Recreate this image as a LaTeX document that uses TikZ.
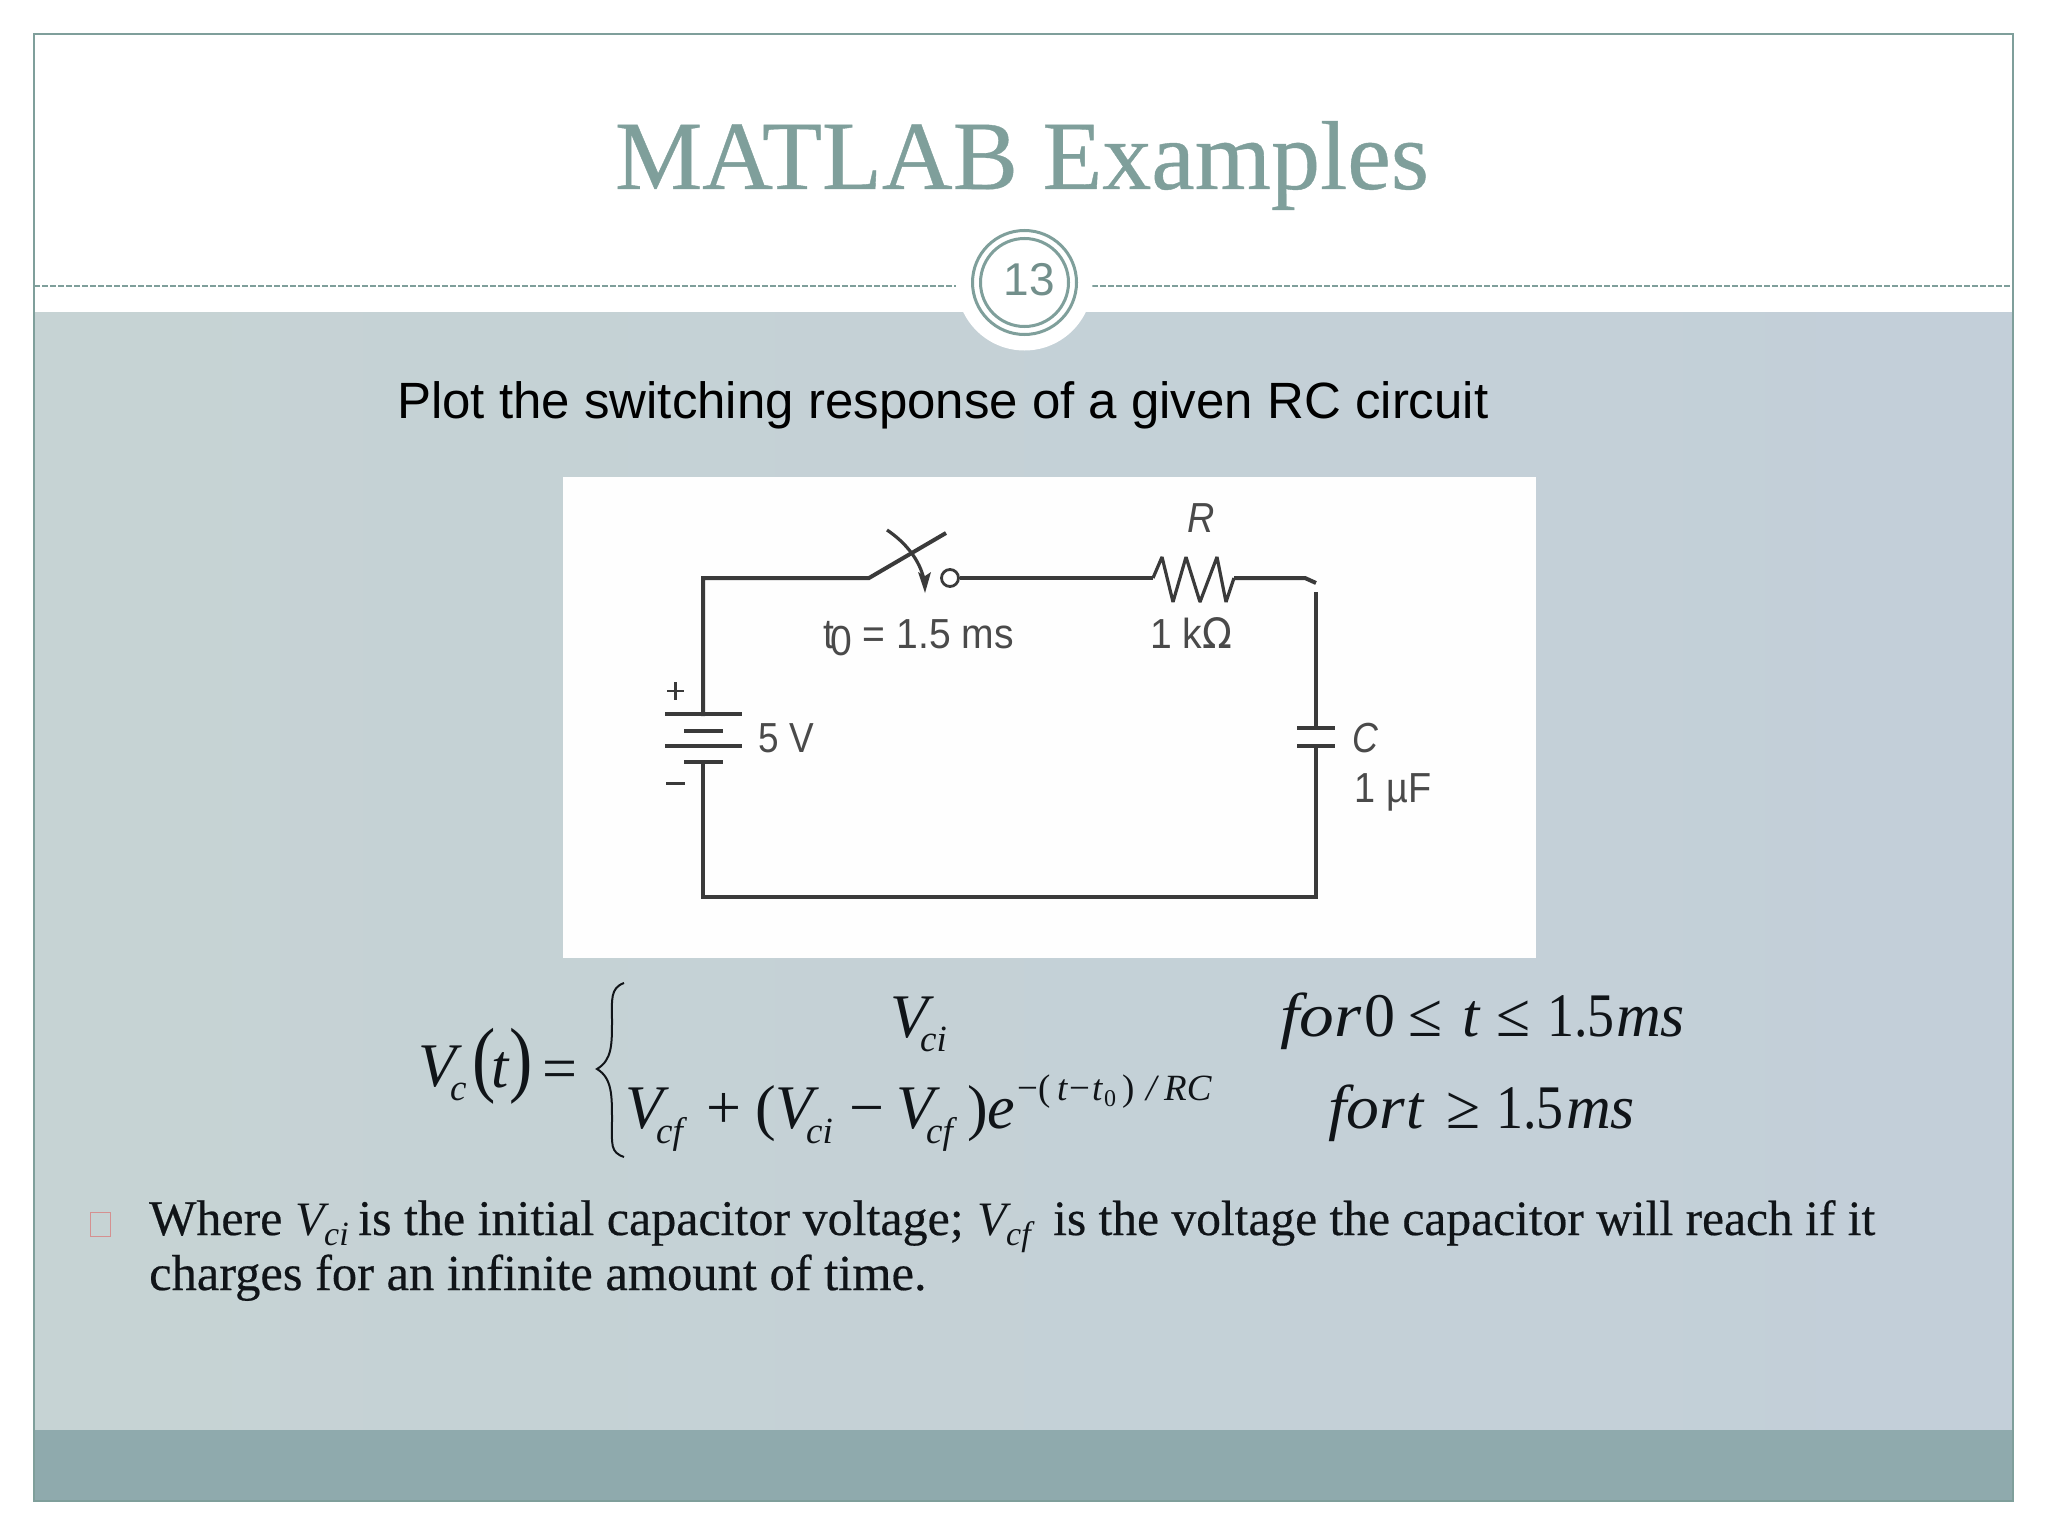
\documentclass[tikz,border=0pt]{standalone}
\usepackage{fontspec}
\setmainfont{Liberation Serif}
\setsansfont{Liberation Sans}
\newcommand{\eqit}{\rmfamily\itshape}
\newcommand{\fs}[1]{\fontsize{#1}{#1}\selectfont}
\newfontfamily\heavyserif[FakeBold=0.4]{Liberation Serif}
\definecolor{framec}{HTML}{7F9F9B}
\definecolor{bandl}{HTML}{C6D3D4}
\definecolor{bandr}{HTML}{C3CFD9}
\definecolor{footc}{HTML}{8FAAAD}
\definecolor{wirec}{HTML}{3A3A3A}
\definecolor{labc}{HTML}{4A4A4A}
\definecolor{inkc}{HTML}{101418}
\tikzset{
  tx/.style={inner sep=0pt,anchor=base west,text=inkc},
  eq/.style={tx,font=\eqit\fs{62}},
  eqr/.style={tx,font=\rmfamily\fs{62}},
  eqs/.style={tx,font=\eqit\fs{37}},
  eqrs/.style={tx,font=\rmfamily\fs{37}},
  body/.style={tx,font=\heavyserif\fs{50}},
  bodyi/.style={tx,font=\eqit\fs{48}},
  bodys/.style={tx,font=\eqit\fs{34}},
  lab/.style={inner sep=0pt,text=labc,font=\sffamily\fs{42}},
  wire/.style={draw=wirec,line width=3.2pt},
  thick wire/.style={draw=wirec,line width=4pt},
  plate/.style={draw=wirec,line width=4.4pt},
  ring/.style={draw=framec,line width=3pt},
  rule/.style={draw=framec,line width=2pt,dash pattern=on 6pt off 2pt},
}
\begin{document}
\begin{tikzpicture}[x=1pt,y=-1pt]
\useasboundingbox (0,0) rectangle (2048,1536);
\fill[white] (0,0) rectangle (2048,1536);
% band and footer
\shade[left color=bandl,right color=bandr] (34,312) rectangle (2013,1430);
\fill[footc] (34,1430) rectangle (2013,1501);
\draw[framec,line width=1.6pt] (34,34) rectangle (2013,1501);
% header rule
\draw[rule] (34,286) -- (956,286);
\draw[rule] (1092,286) -- (2013,286);
\fill[white] (1024.5,282.5) circle (68);
\node[ring,circle,minimum size=104pt,inner sep=0pt] (outerring) at (1024.5,282.5) {};
\node[ring,circle,minimum size=88pt,inner sep=0pt] (innerring) at (1024.5,282.5) {};
\node[inner sep=0pt,text=framec!90!black,font=\sffamily\fs{46}] (pagenum) at (1029,280) {13};
% title
\node[tx,text=framec,font=\heavyserif\fs{98},anchor=base] (title) at (1022,189) {MATLAB Examples};
\node[tx,text=black,font=\sffamily\fs{51},anchor=base west] (subtitle) at (397,418) {Plot the switching response of a given RC circuit};
% picture
\fill[white!99!gray] (563,477) rectangle (1536,958);
\coordinate (tl) at (703,578);
\coordinate (sw) at (869,578);
\coordinate (rs) at (1153,578);
\coordinate (re) at (1234,578);
\coordinate (cr) at (1305,578);
\coordinate (rt) at (1316,592);
\coordinate (rb) at (1316,897);
\coordinate (lb) at (703,897);
\node[draw=wirec,line width=2.8pt,circle,minimum size=17pt,inner sep=0pt,fill=white] (contact) at (950,578) {};
\draw[thick wire,line join=miter] (703,716) -- (tl) -- (sw) -- (946,533);
\draw[thick wire] (contact) -- (rs);
\draw[wire,line join=bevel] (rs) -- (1162,557) -- (1173,602) -- (1186,557) -- (1200,602) -- (1217,557) -- (1226,602) -- (re);
\draw[thick wire] (re) -- (cr) -- (1316,583);
\draw[wire] (rt) -- (1316,728);
\draw[plate] (1297,728) -- (1335,728);
\draw[plate] (1297,746) -- (1335,746);
\draw[wire] (1316,746) -- (rb) -- (lb) -- (703,762);
\draw[thick wire] (rb) -- (lb);
\draw[plate] (665,714) -- (742,714);
\draw[plate] (684,731) -- (723,731);
\draw[plate] (665,746) -- (742,746);
\draw[plate] (684,762) -- (723,762);
\draw[wire] (887,530) .. controls (905,542) and (920,560) .. (924,580);
\fill[wirec] (925,593) -- (918,572) -- (925,576) -- (931,572) -- cycle;
\draw[wirec,line width=2.4pt] (675.5,682) -- (675.5,700) (667,691) -- (684,691);
\draw[wirec,line width=3pt] (666,783) -- (685,783);
\node[lab,xscale=.88,transform shape] (v5) at (786,738) {5 V};
\node[lab,xscale=.93,transform shape,anchor=base west] (t0lab) at (823,648) {t\raisebox{-7pt}{\hspace{-4pt}0} = 1.5 ms};
\node[lab,xscale=.9,transform shape,font=\sffamily\itshape\fs{42}] (rlab) at (1201,518) {R};
\node[lab,xscale=.93,transform shape] (klab) at (1191,633) {1 k\fontspec{DejaVu Sans}Ω};
\node[lab,xscale=.85,transform shape,font=\sffamily\itshape\fs{42}] (clab) at (1365,738) {C};
\node[lab,xscale=.9,transform shape] (ulab) at (1393,792) {1 µF};
% equation
\node[eq] (e1) at (418,1086) {V};
\node[eqs] (e2) at (450,1100) {c};
\node[eqr,font=\rmfamily\fs{70},yscale=1.2,transform shape] (e3) at (472,1086) {(};
\node[eq] (e4) at (491,1087) {t};
\node[eqr,font=\rmfamily\fs{70},yscale=1.2,transform shape] (e5) at (509,1086) {)};
\node[eqr] (e6) at (542,1089) {=};
\draw[inkc,line width=2pt] (624,983) .. controls (610,988) and (612,1000) .. (612,1020) .. controls (612,1045) and (612,1060) .. (597,1069) .. controls (612,1078) and (612,1095) .. (612,1120) .. controls (612,1145) and (610,1152) .. (624,1157);
\node[eq] (a1) at (890,1037) {V};
\node[eqs] (a2) at (920,1051) {ci};
\node[eq] (b1) at (625,1128) {V};
\node[eqs] (b2) at (656,1143) {cf};
\node[eqr] (b3) at (706,1128) {+};
\node[eqr] (b4) at (755,1128) {(};
\node[eq] (b5) at (775,1128) {V};
\node[eqs] (b6) at (806,1143) {ci};
\node[eqr] (b7) at (849,1128) {−};
\node[eq] (b8) at (896,1128) {V};
\node[eqs] (b9) at (926,1143) {cf};
\node[eqr] (b10) at (967,1128) {)};
\node[eq] (b11) at (987,1128) {e};
\node[eqrs] (x1) at (1017,1100) {−(};
\node[eqs] (x2) at (1057,1100) {t};
\node[eqrs] (x3) at (1069,1100) {−};
\node[eqs] (x4) at (1092,1100) {t};
\node[eqrs,font=\rmfamily\fs{24}] (x5) at (1104,1106) {0};
\node[eqrs] (x6) at (1122,1100) {)};
\node[eqs] (x7) at (1146,1100) {/};
\node[eqs] (x8) at (1164,1100) {RC};
\node[eq,xscale=1.12,transform shape] (f1) at (1280,1036) {for};
\node[eqr] (f2) at (1364,1036) {0};
\node[eqr] (f3) at (1408,1036) {≤};
\node[eq] (f4) at (1462,1036) {t};
\node[eqr] (f5) at (1496,1036) {≤};
\node[eqr,xscale=.87,transform shape] (f6) at (1547,1036) {1.5};
\node[eq] (f7) at (1616,1036) {ms};
\node[eq,xscale=1.06,transform shape] (g1) at (1328,1128) {for};
\node[eq] (g2) at (1406,1128) {t};
\node[eqr] (g3) at (1446,1128) {≥};
\node[eqr,xscale=.87,transform shape] (g4) at (1496,1128) {1.5};
\node[eq] (g5) at (1566,1128) {ms};
% bullet text
\draw[draw=red!45!gray!60,line width=1pt] (90,1212) rectangle (110,1236);
\node[body] (w1) at (149,1235) {Where};
\node[bodyi] (w2) at (295,1235) {V};
\node[bodys] (w3) at (324,1245) {ci};
\node[body] (w4) at (358,1235) {is the initial capacitor voltage;};
\node[bodyi] (w5) at (977,1235) {V};
\node[bodys] (w6) at (1006,1245) {cf};
\node[body,font=\heavyserif\fs{49.5}] (w7) at (1053,1235) {is the voltage the capacitor will reach if it};
\node[body,font=\heavyserif\fs{50.5}] (w8) at (149,1290) {charges for an infinite amount of time.};
\end{tikzpicture}
\end{document}
